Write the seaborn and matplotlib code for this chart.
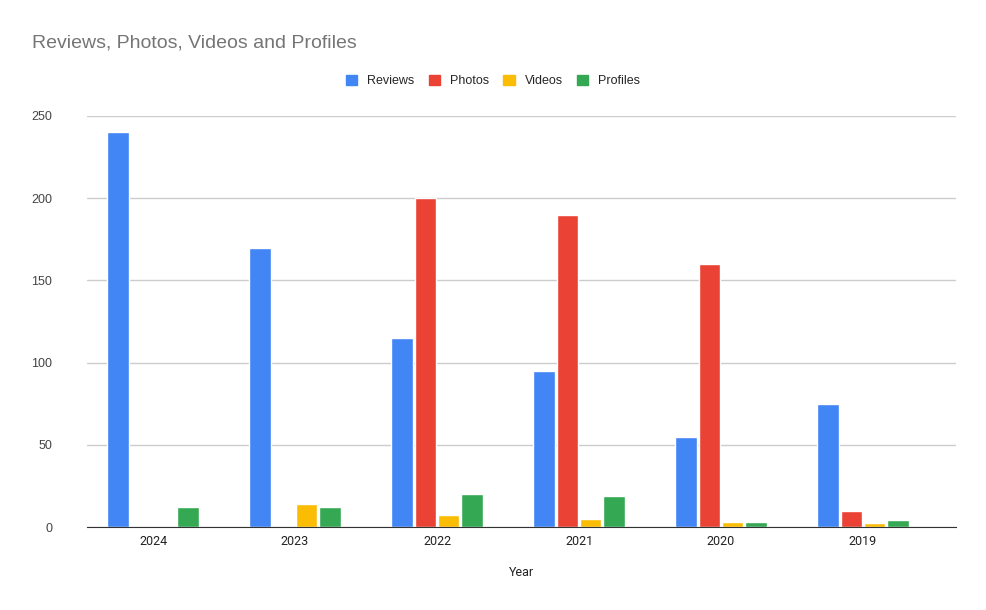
import pandas as pd
import matplotlib
matplotlib.use("Agg")
import matplotlib.pyplot as plt
import seaborn as sns

years = ["2024", "2023", "2022", "2021", "2020", "2019"]
reviews = [240, 170, 115, 95, 55, 75]
photos = [0, 0, 200, 190, 160, 10]
videos = [0, 14, 7, 5, 3, 2.5]
profiles = [12, 12, 20, 19, 3, 4]

series = ["Reviews", "Photos", "Videos", "Profiles"]
colors = ["#4285F4", "#EA4335", "#FBBC04", "#34A853"]

# long format for seaborn
rows = []
for name, vals in zip(series, [reviews, photos, videos, profiles]):
    for y, v in zip(years, vals):
        rows.append({"Year": y, "Series": name, "Value": v})
df = pd.DataFrame(rows)

sns.set_style("white")
plt.rcParams["font.family"] = ["Liberation Sans", "DejaVu Sans"]

fig = plt.figure(figsize=(9.87, 6.1), dpi=100)
ax = fig.add_axes([87 / 987, 1 - 527 / 610, (956 - 87) / 987, (527 - 116) / 610])

sns.barplot(data=df, x="Year", y="Value", hue="Series", order=years,
            hue_order=series, palette=colors, width=0.655, gap=0.07,
            saturation=1, ax=ax, legend=False)

# categories sit a bit left of the full grid width, like the original
ax.set_xlim(-0.465, 5.655)
ax.set_ylim(0, 250)
ax.set_yticks([0, 50, 100, 150, 200, 250])
ax.grid(axis="y", color="#cccccc", linewidth=1)
ax.set_axisbelow(True)
for s in ["left", "right", "top"]:
    ax.spines[s].set_visible(False)
ax.spines["bottom"].set_color("#333333")
ax.tick_params(axis="y", length=0, pad=25, labelsize=9, labelcolor="#444444")
ax.tick_params(axis="x", length=0, pad=6, labelsize=9, labelcolor="#222222")
for lbl in ax.get_xticklabels():
    lbl.set_family(["Roboto", "DejaVu Sans"])
ax.set_ylabel("")
ax.set_xlabel("Year", fontsize=9, color="#222222", labelpad=13,
              family=["Roboto", "DejaVu Sans"])

fig.text(32 / 987, 1 - 43 / 610, "Reviews, Photos, Videos and Profiles",
         fontsize=14, color="#757575", va="center", ha="left")

handles = [plt.Rectangle((0, 0), 1, 1, color=c) for c in colors]
fig.legend(handles, series, loc="center", bbox_to_anchor=(493 / 987, 1 - 81 / 610),
           ncol=4, frameon=False, fontsize=9, handlelength=0.9, handleheight=0.9,
           columnspacing=1.15, handletextpad=0.8)

fig.savefig("out.png", dpi=100)
